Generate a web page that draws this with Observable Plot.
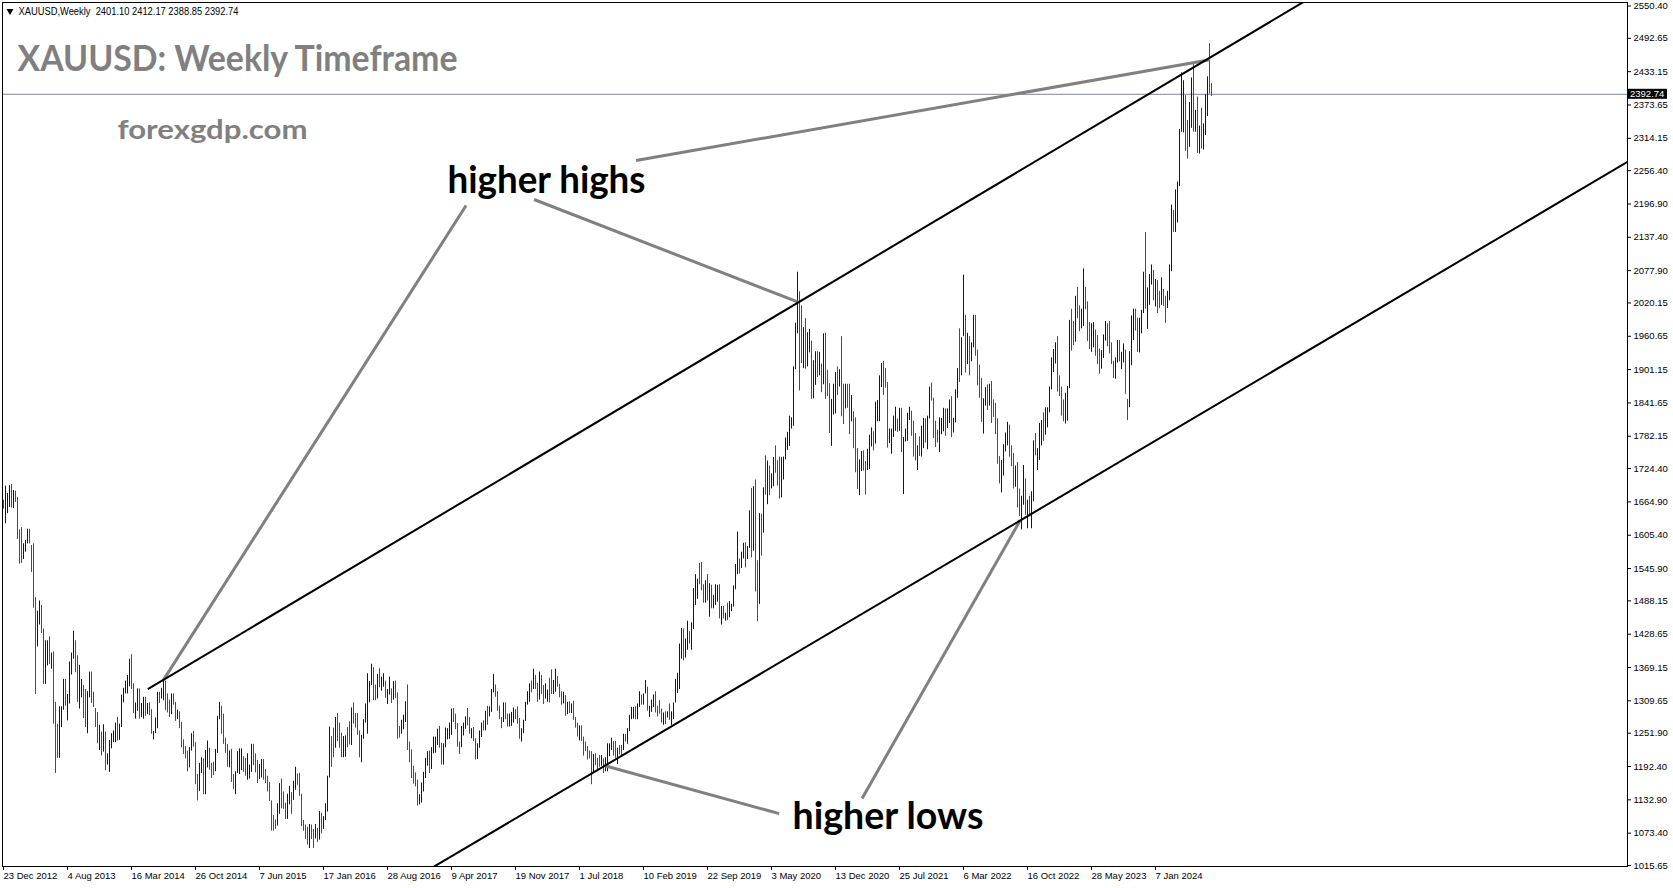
<!DOCTYPE html>
<html>
<head>
<meta charset="utf-8">
<script src="https://cdn.jsdelivr.net/npm/d3@7"></script>
<script src="https://cdn.jsdelivr.net/npm/@observablehq/plot@0.6"></script>
<style>
  html, body { margin: 0; padding: 0; background: #fff; }
  #chart { width: 1673px; height: 888px; overflow: hidden; }
</style>
</head>
<body>
<div id="chart"></div>
<script>
// XAUUSD weekly bars, one entry per week starting Sunday 23 Dec 2012.
const symbolName = "XAUUSD,Weekly";
const lastBarOHLC = [2401.10, 2412.17, 2388.85, 2392.74];
const firstWeek = "2012-12-23";

// Weekly highs (one row per calendar-ish year of weeks)
const weekHigh = [
  1668,
  1693,1680,1694,1696,1685,1684,1673,1615,1619,1590,1596,1616,1616,1587,1590,1494,1470,1488,1480,1438,1417,1417,1424,1395,1397,1307,1268,1299,1299,1348,1348,1321,1379,1395,1434,1417,1390,1373,1348,1337,1330,1326,1361,1361,1325,1296,1289,1266,1254,1267,1254,1215,1239,
  1251,1256,1270,1280,1268,1320,1332,1345,1355,1384,1392,1340,1306,1331,1331,1305,1316,1316,1305,1306,1294,1255,1279,1325,1325,1332,1345,1345,1322,1311,1322,1322,1307,1293,1290,1271,1240,1228,1220,1226,1251,1255,1235,1178,1198,1208,1206,1221,1238,1225,1198,1200,
  1223,1282,1307,1300,1286,1243,1232,1220,1223,1178,1183,1219,1224,1224,1210,1207,1215,1195,1232,1232,1215,1203,1196,1205,1205,1187,1175,1164,1131,1105,1097,1126,1162,1170,1147,1127,1143,1157,1146,1166,1191,1179,1180,1143,1096,1088,1084,1089,1088,1080,1089,1082,
  1112,1109,1103,1126,1175,1263,1246,1261,1280,1287,1270,1252,1246,1247,1262,1272,1297,1306,1287,1287,1256,1248,1276,1304,1358,1344,1375,1369,1338,1357,1367,1352,1358,1345,1330,1352,1331,1344,1345,1324,1264,1275,1284,1308,1338,1236,1222,1193,1181,1168,1142,1163,
  1182,1207,1219,1220,1226,1245,1245,1259,1264,1234,1233,1261,1260,1270,1295,1296,1286,1269,1236,1264,1270,1281,1296,1280,1260,1262,1242,1233,1256,1270,1274,1291,1300,1299,1330,1357,1338,1326,1300,1280,1306,1306,1286,1286,1289,1297,1294,1299,1278,1260,1275,1307,
  1326,1340,1345,1366,1355,1341,1361,1355,1337,1340,1329,1350,1365,1346,1366,1353,1339,1326,1325,1319,1307,1308,1304,1309,1280,1270,1265,1265,1245,1236,1228,1220,1219,1214,1215,1207,1212,1212,1206,1208,1233,1233,1243,1237,1237,1225,1230,1230,1250,1250,1260,1284,
  1298,1298,1299,1304,1326,1320,1322,1346,1334,1300,1311,1320,1326,1300,1310,1295,1288,1290,1290,1304,1290,1306,1348,1359,1411,1439,1438,1420,1452,1433,1449,1510,1535,1527,1555,1557,1517,1524,1535,1519,1516,1498,1517,1516,1517,1478,1478,1466,1484,1487,1482,1515,
  1553,1611,1563,1575,1591,1592,1585,1649,1689,1692,1704,1560,1644,1643,1690,1747,1738,1729,1715,1744,1765,1738,1745,1744,1745,1779,1789,1818,1815,1906,1984,2075,2040,2015,1976,1992,1967,1973,1952,1917,1933,1933,1932,1911,1965,1966,1900,1876,1848,1875,1896,1906,
  1901,1960,1875,1875,1875,1875,1855,1826,1815,1760,1740,1755,1756,1737,1759,1784,1797,1790,1843,1846,1890,1912,1916,1903,1878,1795,1795,1818,1834,1813,1832,1832,1780,1795,1823,1834,1827,1809,1787,1765,1781,1800,1814,1813,1818,1870,1877,1850,1809,1793,1815,1814,
  1832,1831,1831,1847,1853,1814,1865,1903,1974,1958,2070,1998,1966,1960,1949,1998,1998,1936,1909,1885,1849,1869,1874,1875,1880,1847,1841,1813,1746,1739,1767,1788,1807,1802,1765,1751,1729,1735,1688,1675,1730,1706,1668,1675,1683,1774,1787,1760,1805,1810,1824,1833,1833,
  1870,1922,1937,1949,1960,1890,1870,1847,1859,1871,1989,2009,1987,2032,2048,2015,2009,2081,2048,2022,1985,1983,1985,1972,1962,1938,1935,1963,1987,1983,1987,1949,1916,1922,1953,1953,1932,1947,1936,1848,1933,1997,2009,2009,1993,1993,2007,2075,2146,2047,2071,2088,
  2078,2062,2060,2041,2065,2044,2032,2041,2088,2195,2185,2222,2236,2330,2431,2417,2390,2346,2378,2422,2450,2364,2388,2336,2368,2340,2392,2424,2483,2412
];

// Weekly lows
const weekLow = [
  1652,
  1626,1644,1655,1654,1653,1664,1598,1554,1555,1562,1575,1590,1590,1539,1475,1321,1406,1445,1430,1339,1339,1372,1375,1366,1268,1180,1207,1207,1262,1293,1300,1274,1304,1356,1384,1360,1307,1295,1315,1278,1262,1251,1315,1305,1298,1262,1233,1221,1211,1218,1185,1195,1182,
  1224,1235,1235,1238,1239,1262,1306,1322,1322,1335,1330,1287,1277,1291,1277,1280,1277,1282,1285,1283,1250,1240,1251,1260,1305,1313,1310,1292,1288,1280,1285,1302,1273,1276,1260,1226,1214,1206,1183,1190,1220,1227,1160,1131,1148,1180,1142,1142,1190,1186,1171,1176,
  1183,1216,1276,1250,1232,1216,1191,1190,1164,1151,1142,1180,1178,1185,1182,1175,1168,1170,1182,1194,1181,1162,1169,1172,1168,1162,1147,1130,1077,1077,1080,1086,1107,1117,1116,1098,1098,1124,1107,1132,1150,1159,1139,1085,1077,1062,1052,1046,1062,1046,1063,1057,
  1061,1072,1080,1096,1111,1172,1191,1208,1225,1237,1225,1208,1208,1209,1226,1231,1230,1268,1261,1248,1208,1199,1241,1270,1250,1306,1337,1310,1310,1313,1333,1327,1334,1314,1303,1320,1305,1311,1314,1241,1243,1250,1258,1271,1221,1199,1171,1161,1156,1122,1124,1127,
  1147,1171,1193,1180,1187,1215,1216,1230,1225,1195,1195,1226,1240,1241,1248,1271,1258,1227,1214,1226,1247,1259,1265,1250,1242,1237,1204,1205,1225,1244,1256,1256,1266,1281,1289,1324,1316,1291,1276,1260,1271,1276,1263,1263,1264,1270,1276,1268,1241,1236,1251,1273,
  1302,1307,1324,1330,1330,1307,1311,1321,1303,1313,1307,1306,1321,1321,1325,1334,1315,1302,1304,1282,1285,1287,1287,1275,1261,1245,1238,1237,1211,1219,1204,1206,1160,1180,1194,1187,1191,1193,1180,1183,1183,1210,1221,1211,1207,1196,1213,1210,1221,1236,1232,1255,
  1276,1277,1276,1276,1298,1302,1302,1322,1291,1280,1289,1298,1288,1281,1286,1270,1266,1267,1279,1275,1266,1276,1306,1323,1330,1384,1381,1386,1400,1411,1400,1437,1480,1491,1517,1506,1484,1484,1488,1459,1474,1474,1480,1486,1456,1445,1456,1452,1453,1458,1469,1477,
  1508,1535,1536,1546,1563,1547,1562,1582,1565,1577,1504,1451,1482,1568,1609,1677,1660,1676,1688,1692,1716,1693,1670,1672,1704,1740,1757,1764,1795,1800,1901,1965,1863,1912,1903,1902,1906,1931,1848,1849,1873,1887,1890,1860,1874,1848,1853,1787,1764,1820,1822,1855,
  1870,1817,1803,1831,1832,1785,1808,1760,1717,1687,1676,1719,1720,1677,1721,1723,1763,1756,1768,1808,1808,1869,1855,1868,1761,1769,1750,1780,1791,1789,1791,1753,1678,1772,1773,1810,1782,1745,1738,1721,1746,1745,1760,1770,1758,1813,1845,1778,1762,1770,1753,1785,
  1790,1782,1796,1805,1780,1788,1806,1850,1878,1890,1960,1895,1910,1890,1915,1940,1925,1872,1850,1807,1786,1836,1828,1836,1805,1816,1785,1732,1697,1681,1711,1754,1765,1745,1728,1688,1691,1654,1639,1615,1659,1641,1617,1638,1617,1665,1747,1721,1739,1765,1773,1784,1797,
  1824,1865,1896,1911,1861,1853,1818,1808,1804,1809,1867,1934,1944,1950,1992,1969,1974,1978,2008,1951,1937,1932,1940,1925,1910,1893,1902,1921,1952,1942,1929,1910,1885,1884,1913,1915,1901,1913,1857,1810,1833,1908,1953,1970,1932,1931,1965,2001,2009,1973,2016,2052,
  2024,2013,2001,2010,2016,2014,1984,2010,2024,2076,2146,2146,2163,2228,2325,2324,2291,2277,2298,2332,2325,2325,2287,2286,2295,2293,2319,2353,2393,2389
];

// Bar direction per week: u = closed higher (blue), d = closed lower (red)
const weekDir =
  "d" +
  "uuudud" + "ddduuu" + "dddduu" + "dduudu" + "ddduuu" + "duuuud" + "duuddu" + "uddddu" + "duduu" +
  "uuuduu" + "uuuudd" + "uuduud" + "udduuu" + "duuddd" + "uddudd" + "ddduud" + "dduudu" + "uddd" +
  "uuuddd" + "dudduu" + "uudduu" + "uddduu" + "dddddd" + "duuddd" + "uuduud" + "dddddu" + "ddud" +
  "uduuuu" + "dduddd" + "uuddud" + "ddduuu" + "uuuddu" + "duuduu" + "dudddu" + "uudddd" + "dduu" +
  "uuuduu" + "uudduu" + "uuuddd" + "duuudd" + "udduuu" + "duduuu" + "ddddud" + "duuudd" + "duuu" +
  "uududd" + "udduud" + "duuddd" + "ududud" + "dduddd" + "dddudd" + "duduuu" + "uddudd" + "uduu" +
  "uuduud" + "uuduuu" + "ddddud" + "uduuuu" + "uuduud" + "uuuudd" + "dududu" + "uududu" + "duuu" +
  "uuduud" + "uududd" + "ududud" + "uudddu" + "uuuuuu" + "uuddud" + "uuduud" + "ududdd" + "uuud" +
  "uddudd" + "uddduu" + "dduuud" + "uuuudd" + "duuuud" + "uduuuu" + "dddudu" + "uduudd" + "dduu" +
  "uduudu" + "uuduud" + "uduudd" + "dduudu" + "dddddu" + "uuuddd" + "udduud" + "uduudu" + "uuduu" +
  "uuuudd" + "dduuud" + "dudduu" + "ddduud" + "dduuud" + "ddduud" + "uudduu" + "udduuu" + "duuu" +
  "duddud" + "duuudu" + "uuuudd" + "uududu" + "duuudd";

// Price axis labels
const priceTicks = [2550.40, 2492.65, 2433.15, 2373.65, 2314.15, 2256.40, 2196.90, 2137.40, 2077.90,
  2020.15, 1960.65, 1901.15, 1841.65, 1782.15, 1724.40, 1664.90, 1605.40, 1545.90, 1488.15, 1428.65,
  1369.15, 1309.65, 1251.90, 1192.40, 1132.90, 1073.40, 1015.65];

// Date axis labels
const dateTicks = ["2012-12-23", "2013-08-04", "2014-03-16", "2014-10-26", "2015-06-07", "2016-01-17",
  "2016-08-28", "2017-04-09", "2017-11-19", "2018-07-01", "2019-02-10", "2019-09-22", "2020-05-03",
  "2020-12-13", "2021-07-25", "2022-03-06", "2022-10-16", "2023-05-28", "2024-01-07"];

// Rising channel: [start date, start price, end date, end price]
const channelLines = [
  ["2014-05-12", 1330.5, "2025-08-17", 2578.8],
  ["2017-01-01", 1002.6, "2028-07-16", 2272.0]
];

// Pointer lines from the labels to the touches of the channel
const highPointers = [
  ["2019-01-15", 2274.5, "2024-07-16", 2454.3],
  ["2018-01-23", 2204.9, "2020-08-05", 2021.5],
  ["2017-05-30", 2194.2, "2014-07-06", 1347.2]
];
const lowPointers = [
  ["2020-05-30", 1108.3, "2018-09-25", 1194.2],
  ["2021-03-16", 1135.2, "2022-09-20", 1631.6]
];

const upColor = "#0000cd";
const downColor = "#ff0000";
const labelGray = "#808080";

const DAY = 864e5;
const t0 = Date.parse(firstWeek);
const weekAt = k => new Date(t0 + k * 7 * DAY);

const bars = weekHigh.map((h, k) => ({date: weekAt(k), high: h, low: weekLow[k], dir: weekDir[k]}));
const lastClose = lastBarOHLC[3];
const fmt2 = v => v.toFixed(2);
const segX1 = d => new Date(d[0]), segY1 = d => d[1], segX2 = d => new Date(d[2]), segY2 = d => d[3];

const headline = symbolName + "\u00a0\u00a0" + lastBarOHLC.map(fmt2).join(" ");

const chart = Plot.plot({
  width: 1673,
  height: 888,
  marginLeft: 2,
  marginTop: 2,
  marginRight: 46,
  marginBottom: 22,
  style: {fontFamily: "'Liberation Sans', Arial, sans-serif", fontSize: "9.5px", background: "#fff", color: "#000"},
  x: {type: "utc", domain: [weekAt(-1.5), weekAt(812)], range: [0, 1627]},
  y: {domain: [1015.65, 2550.40], range: [865, 5.5]},
  color: {domain: ["u", "d"], range: [upColor, downColor]},
  marks: [
    Plot.ruleY([lastClose], {stroke: "#778899", strokeWidth: 1}),
    Plot.ruleX(bars, {x: "date", y1: "low", y2: "high", stroke: "dir", strokeWidth: 1}),
    Plot.link(highPointers, {x1: segX1, y1: segY1, x2: segX2, y2: segY2, stroke: labelGray, strokeWidth: 3, clip: true}),
    Plot.link(lowPointers, {x1: segX1, y1: segY1, x2: segX2, y2: segY2, stroke: labelGray, strokeWidth: 3, clip: true}),
    Plot.link(channelLines, {x1: segX1, y1: segY1, x2: segX2, y2: segY2, stroke: "#000", strokeWidth: 2, clip: true}),
    Plot.frame({stroke: "#000"}),
    Plot.axisY({anchor: "right", ticks: priceTicks, tickFormat: fmt2, tickSize: 3, tickPadding: 3}),
    Plot.axisX({anchor: "bottom", ticks: dateTicks.map(d => new Date(d)), tickFormat: d3.utcFormat("%-d %b %Y"),
      tickSize: 4, tickPadding: 2, textAnchor: "start"}),
    Plot.dot([0], {frameAnchor: "top-left", dx: 7.5, dy: 8.5, symbol: "triangle", r: 2.6, fill: "#000", stroke: "none", rotate: 180}),
    Plot.text([headline], {text: d => d, frameAnchor: "top-left", dx: 16, dy: 5.3, textAnchor: "start", lineAnchor: "top",
      fontSize: 10, fill: "#000", className: "hdr"}),
    Plot.text(["XAUUSD: Weekly Timeframe"], {text: d => d, frameAnchor: "top-left", dx: 15, dy: 42.8, textAnchor: "start", lineAnchor: "top",
      fontFamily: "Lato", fontWeight: "bold", fontSize: 35.5, fill: labelGray, className: "ttl"}),
    Plot.text(["forexgdp.com"], {text: d => d, frameAnchor: "top-left", dx: 115, dy: 117.1, textAnchor: "start", lineAnchor: "top",
      fontFamily: "Lato", fontWeight: "bold", fontSize: 27, fill: labelGray, className: "site"}),
    Plot.text(["higher highs"], {text: d => d, frameAnchor: "top-left", dx: 445, dy: 163.7, textAnchor: "start", lineAnchor: "top",
      fontFamily: "Lato", fontWeight: "bold", fontSize: 38, fill: "#000", className: "hh"}),
    Plot.text(["higher lows"], {text: d => d, frameAnchor: "top-left", dx: 790, dy: 800, textAnchor: "start", lineAnchor: "top",
      fontFamily: "Lato", fontWeight: "bold", fontSize: 38, fill: "#000", className: "hl"})
  ]
});

// Fit the big labels to their widths
const svg = d3.select(chart);
[["ttl", 440], ["site", 190], ["hh", 198], ["hl", 191], ["hdr", 220]].forEach(([cls, w]) => {
  svg.selectAll("." + cls + " text").attr("textLength", w).attr("lengthAdjust", "spacingAndGlyphs");
});

// Current price tag on the price axis
const yPos = chart.scale("y").apply(lastClose);
svg.append("rect").attr("x", 1628).attr("y", yPos - 5).attr("width", 39).attr("height", 10).attr("fill", "#000");
svg.append("text").attr("x", 1630).attr("y", yPos + 3.4).attr("fill", "#fff").attr("text-anchor", "start")
  .attr("font-size", 9.5).attr("font-family", "'Liberation Sans', Arial, sans-serif").text(fmt2(lastClose));

document.getElementById("chart").appendChild(chart);
</script>
</body>
</html>
